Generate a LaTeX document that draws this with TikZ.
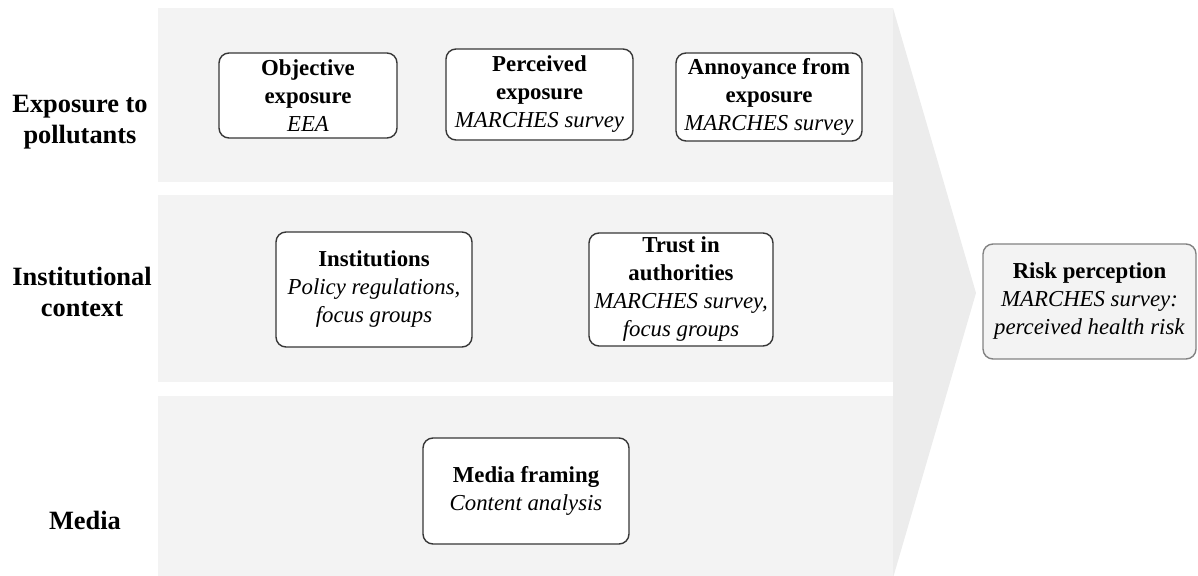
\documentclass[tikz,border=0pt]{standalone}
\usepackage{fontspec}
\setmainfont{Liberation Serif}
\definecolor{bandfill}{RGB}{243,243,243}
\definecolor{chevronfill}{RGB}{236,236,236}
\definecolor{boxline}{RGB}{55,55,55}
\definecolor{riskline}{RGB}{130,130,130}
\begin{document}
\begin{tikzpicture}[x=0.5pt,y=-0.5pt,
  box/.style={draw=boxline, line width=0.7pt, fill=white, rounded corners=5pt,
    align=center, inner sep=0pt, font=\fontsize{11.4}{14}\selectfont},
  rowlabel/.style={align=center, inner sep=0pt,
    font=\fontsize{13.2}{15.5}\selectfont\bfseries}]
\useasboundingbox (0,0) rectangle (1198,576);

% background bands and the chevron pointing to the outcome
\fill[bandfill] (158,8) rectangle (893,182);
\fill[bandfill] (158,195) rectangle (893,382);
\fill[bandfill] (158,396) rectangle (893,578);
\fill[chevronfill] (893,8) -- (976,293) -- (893,578) -- cycle;

% row labels
\node[rowlabel] (lexp) at (80,122) {Exposure to\\pollutants};
\node[rowlabel] (linst) at (82,292) {Institutional\\context};
\node[rowlabel] (lmedia) at (85,520) {Media};

% exposure row
\node[box, minimum width=89pt, minimum height=42.5pt] (objective) at (308,95.5)
  {\textbf{Objective}\\\textbf{exposure}\\\textit{EEA}};
\node[box, minimum width=93.5pt, minimum height=45.5pt] (perceived) at (539.5,94.5)
  {\textbf{Perceived}\\\textbf{exposure}\\\textit{MARCHES survey}};
\node[box, minimum width=93pt, minimum height=44pt] (annoyance) at (769,97)
  {\textbf{Annoyance from}\\\textbf{exposure}\\\textit{MARCHES survey}};

% institutional row
\node[box, minimum width=98pt, minimum height=57.5pt] (institutions) at (374,289.5)
  {\textbf{Institutions}\\\textit{Policy regulations,}\\\textit{focus groups}};
\node[box, minimum width=92pt, minimum height=56.5pt] (trust) at (681,289.5)
  {\textbf{Trust in}\\\textbf{authorities}\\\textit{MARCHES survey,}\\\textit{focus groups}};

% media row
\node[box, minimum width=103pt, minimum height=53pt] (media) at (526,491)
  {\textbf{Media framing}\\\textit{Content analysis}};

% outcome
\node[box, draw=riskline, fill=bandfill, minimum width=106.5pt, minimum height=57.5pt] (risk) at (1089.5,301.5)
  {\textbf{Risk perception}\\\textit{MARCHES survey:}\\\textit{perceived health risk}};
\end{tikzpicture}
\end{document}
